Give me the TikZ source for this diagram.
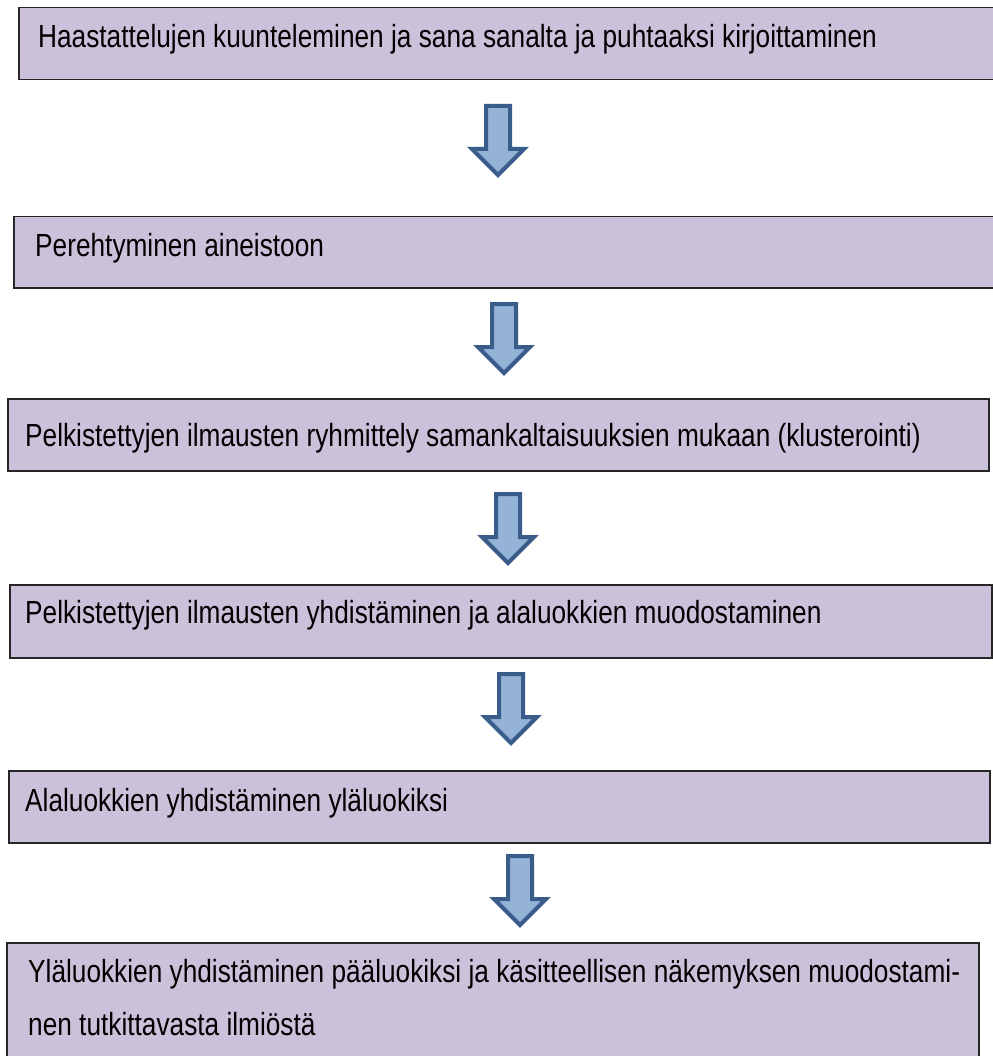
\documentclass[tikz,border=0pt]{standalone}
\usepackage{fontspec}
\setmainfont[FakeStretch=0.82]{Liberation Sans}
\usetikzlibrary{positioning}
\definecolor{laventeli}{RGB}{204,193,218}
\definecolor{nuolisin}{RGB}{149,179,215}
\definecolor{nuolireuna}{RGB}{56,93,138}
\tikzset{
  laatikko/.style={rectangle,draw=black!85,line width=1.5pt,fill=laventeli,
    anchor=north west,inner sep=0pt},
  teksti/.style={anchor=base west,inner sep=0pt,font=\fontsize{32}{53}\selectfont},
  nuoli/.pic={\draw[nuolireuna,fill=nuolisin,line width=4pt]
    (-12,2) -- (12,2) -- (12,45) -- (26,45) -- (0,71) -- (-26,45) -- (-12,45) -- cycle;},
}
\begin{document}
\begin{tikzpicture}[x=1pt,y=-1pt]
    \useasboundingbox (0,0) rectangle (992,1056);
    \node[laatikko,minimum width=990pt,minimum height=72pt] (b1) at (18,7) {};
    \node[laatikko,minimum width=990pt,minimum height=71pt] (b2) at (13,216) {};
    \node[laatikko,minimum width=981pt,minimum height=72pt] (b3) at (7,398) {};
    \node[laatikko,minimum width=982pt,minimum height=73pt] (b4) at (9,584) {};
    \node[laatikko,minimum width=981pt,minimum height=72pt] (b5) at (8,770) {};
    \node[laatikko,minimum width=972pt,minimum height=130pt] (b6) at (6,942) {};
    \node[teksti] (t1) at (38,48) {Haastattelujen kuunteleminen ja sana sanalta ja puhtaaksi kirjoittaminen};
    \node[teksti] (t2) at (35,257) {Perehtyminen aineistoon};
    \node[teksti] (t3) at (25,446) {Pelkistettyjen ilmausten ryhmittely samankaltaisuuksien mukaan (klusterointi)};
    \node[teksti] (t4) at (25,623) {Pelkistettyjen ilmausten yhdistäminen ja alaluokkien muodostaminen};
    \node[teksti] (t5) at (25,811) {Alaluokkien yhdistäminen yläluokiksi};
    \node[teksti] (t6) at (28,982) {Yläluokkien yhdistäminen pääluokiksi ja käsitteellisen näkemyksen muodostami-};
    \node[teksti] (t6b) at (28,1035) {nen tutkittavasta ilmiöstä};
    % nuolet laatikoiden välissä
    \pic at (498,104) {nuoli};
    \pic at (504,302) {nuoli};
    \pic at (508,492) {nuoli};
    \pic at (511,672) {nuoli};
    \pic at (520,854) {nuoli};
\end{tikzpicture}
\end{document}
